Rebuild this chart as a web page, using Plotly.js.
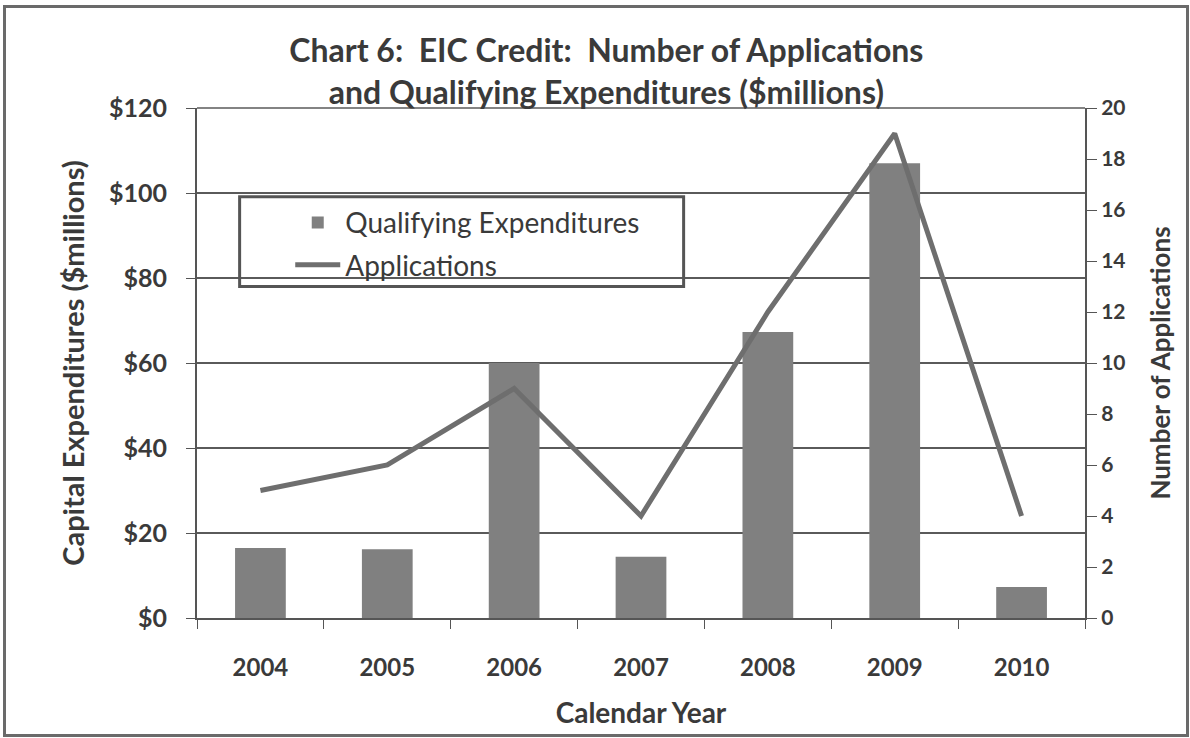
<!DOCTYPE html>
<html>
<head>
<meta charset="utf-8">
<script src="https://cdn.plot.ly/plotly-3.0.1.min.js"></script>
<style>
  html, body { margin: 0; padding: 0; background: #fff; }
  #chart { width: 1190px; height: 738px; }
  #frame { position: absolute; left: 3px; top: 5px; width: 1180px; height: 726px; border: 3px solid #6a6a6a; pointer-events: none; }
</style>
</head>
<body>
<div id="chart"></div>
<div id="frame"></div>
<script>
const years = ['2004', '2005', '2006', '2007', '2008', '2009', '2010'];
const expenditures = [16.5, 16.2, 60.0, 14.4, 67.3, 107.0, 7.3];
const applications = [5, 6, 9, 4, 12, 19, 4];
const leftTicks = [0, 20, 40, 60, 80, 100, 120];
const leftTickLabels = ['$0', '$20', '$40', '$60', '$80', '$100', '$120'];

const FONT = 'Lato, "Open Sans", sans-serif';
const TXT = '#3a3a3a';

const traces = [
  {
    type: 'bar', name: 'Qualifying Expenditures', x: years, y: expenditures,
    marker: { color: '#808080' }, yaxis: 'y', legendgroup: 'a'
  },
  {
    type: 'scatter', mode: 'lines', name: 'Applications', x: years, y: applications,
    line: { color: '#6e6e6e', width: 5 }, yaxis: 'y2', legendgroup: 'b'
  }
];

const layout = {
  width: 1190, height: 738,
  margin: { l: 197, r: 105, t: 108, b: 120 },
  paper_bgcolor: '#fff', plot_bgcolor: '#fff',
  font: { family: FONT, color: TXT },
  bargap: 0.6,
  showlegend: true,
  title: {
    text: 'Chart 6:\u00a0 EIC Credit:\u00a0 Number of Applications<br>and Qualifying Expenditures ($millions)',
    font: { family: FONT, size: 32, weight: 700, color: TXT },
    x: 0.461, xref: 'paper', xanchor: 'center',
    y: 0.916, yref: 'container', yanchor: 'top'
  },
  legend: {
    x: 0.105, xanchor: 'left', y: 0.824, yanchor: 'top',
    bgcolor: 'rgba(0,0,0,0)', borderwidth: 0,
    font: { family: FONT, size: 28, color: TXT },
    traceorder: 'grouped', tracegroupgap: 3, itemwidth: 45
  },
  xaxis: {
    type: 'category', tickson: 'boundaries', ticks: 'outside', ticklen: 9,
    tickcolor: '#555', showline: true, linecolor: '#555', linewidth: 2,
    ticklabelstandoff: 27,
    tickfont: { family: FONT, size: 24, weight: 700, color: TXT },
    title: { text: 'Calendar Year', font: { family: FONT, size: 28, weight: 700, color: TXT }, standoff: 24 }
  },
  yaxis: {
    range: [0, 120], tickvals: leftTicks, ticktext: leftTickLabels,
    ticks: 'outside', ticklen: 9, tickcolor: '#555',
    showgrid: true, gridcolor: '#5a5a5a', gridwidth: 1.5,
    showline: true, linecolor: '#555', linewidth: 2, zeroline: false,
    ticklabelstandoff: 14,
    tickfont: { family: FONT, size: 25, weight: 700, color: TXT },
    title: { text: 'Capital Expenditures ($millions)', font: { family: FONT, size: 29, weight: 700, color: TXT }, standoff: 16 }
  },
  yaxis2: {
    range: [0, 20], dtick: 2, overlaying: 'y', side: 'right',
    ticks: 'outside', ticklen: 10, tickcolor: '#555',
    showgrid: false, showline: true, linecolor: '#555', linewidth: 2, zeroline: false,
    tickfont: { family: FONT, size: 21, weight: 700, color: TXT },
    title: { text: 'Number of Applications', font: { family: FONT, size: 26, weight: 700, color: TXT }, standoff: 27 }
  },
  shapes: [
    { type: 'rect', xref: 'paper', yref: 'paper', x0: 0.048, x1: 0.548, y0: 0.65, y1: 0.826,
      line: { color: '#555', width: 3 }, fillcolor: 'rgba(0,0,0,0)' },
    { type: 'line', xref: 'paper', yref: 'paper', x0: 0, x1: 1, y0: 1, y1: 1,
      line: { color: '#5a5a5a', width: 1.5 } }
  ]
};

Plotly.newPlot('chart', traces, layout, { displayModeBar: false, staticPlot: true });
</script>
</body>
</html>
